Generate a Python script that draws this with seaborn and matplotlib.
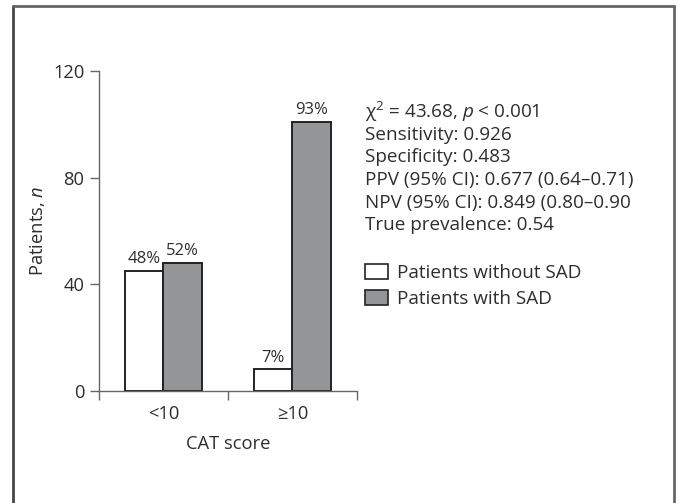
import matplotlib
matplotlib.use("Agg")
import matplotlib.pyplot as plt
from matplotlib.lines import Line2D
from matplotlib.patches import Patch
import seaborn as sns
import pandas as pd

# Patient counts per CAT score group
categories = ["<10", "\u226510"]
groups = ["Patients without SAD", "Patients with SAD"]
without_sad = [45, 8]
with_sad = [48, 101]

stats_lines = [
    "\u03c7$^{2}$ = 43.68, $p$ < 0.001",
    "Sensitivity: 0.926",
    "Specificity: 0.483",
    "PPV (95% CI): 0.677 (0.64\u20130.71)",
    "NPV (95% CI): 0.849 (0.80\u20130.90",
    "True prevalence: 0.54",
]
y_ticks = [0, 40, 80, 120]

df = pd.DataFrame({
    "CAT score": categories * 2,
    "group": [groups[0]] * 2 + [groups[1]] * 2,
    "n": without_sad + with_sad,
})

sns.set_theme(style="white")
TXT = "#2e2e2e"
AX = "#666666"
plt.rcParams["font.family"] = ["Open Sans", "Noto Sans", "DejaVu Sans"]
plt.rcParams["mathtext.fontset"] = "custom"
plt.rcParams["mathtext.rm"] = "Open Sans"
plt.rcParams["mathtext.it"] = "Open Sans:italic"
plt.rcParams["text.color"] = TXT
FS = 13.2
FS_STATS = 13.6

fig = plt.figure(figsize=(6.78, 5.03), dpi=100)
ax = fig.add_axes([0.146, 0.2232, 0.3805, 0.6356])

palette = {groups[0]: "white", groups[1]: "#939598"}
sns.barplot(data=df, x="CAT score", y="n", hue="group", order=categories,
            hue_order=groups, palette=palette, width=0.6, edgecolor="#222222",
            linewidth=1.4, ax=ax, legend=False)

# Percentage labels over each bar (share within CAT group)
totals = [a + b for a, b in zip(without_sad, with_sad)]
for container in ax.containers:
    for i, bar in enumerate(container):
        h = bar.get_height()
        pct = round(100 * h / totals[i])
        ax.annotate(f"{pct}%", (bar.get_x() + bar.get_width() / 2, h),
                    xytext=(0, 2.5), textcoords="offset points",
                    ha="center", va="bottom", fontsize=12, color=TXT)

ax.set_xlim(-0.5, 1.5)
ax.set_ylim(0, 120)
ax.set_yticks(y_ticks)
ax.set_xticks([0, 1])
ax.set_xticklabels(categories)
ax.set_xticks([-0.5, 0.5, 1.0, 1.5], minor=True)
ax.tick_params(axis="x", which="major", length=0, pad=10, labelsize=FS, labelcolor=TXT)
ax.tick_params(axis="x", which="minor", length=6.5, width=1, color=AX, direction="out", bottom=True)
ax.tick_params(axis="y", length=6.5, width=1, color=AX, direction="out", pad=4,
               labelsize=FS, labelcolor=TXT, left=True)
for side in ["top", "right"]:
    ax.spines[side].set_visible(False)
for side in ["left", "bottom"]:
    ax.spines[side].set_color(AX)
    ax.spines[side].set_linewidth(1)
ax.set_xlabel("CAT score", fontsize=FS, color=TXT, labelpad=9)
ax.set_ylabel("Patients, $n$", fontsize=FS, color=TXT, labelpad=4)

# Statistics block
W, H = 678, 503
ys = [112, 135, 157, 180.5, 203, 225]
for line, yp in zip(stats_lines, ys):
    fig.text(365 / W, 1 - yp / H, line, fontsize=FS_STATS, color=TXT, ha="left", va="center")

handles = [Patch(facecolor=palette[g], edgecolor="#222222", linewidth=1.2) for g in groups]
fig.legend(handles, groups, loc="upper left", bbox_to_anchor=(365 / W, 1 - 264 / H),
           frameon=False, fontsize=FS_STATS, handlelength=1.2, handleheight=0.8,
           handletextpad=0.5, labelspacing=0.42, borderpad=0, borderaxespad=0,
           labelcolor=TXT)

# Outer frame (open at the bottom)
fc = "#666666"
fig.add_artist(Line2D([12.5 / W, 12.5 / W], [0, 1 - 5.5 / H], transform=fig.transFigure, color="#444444", lw=2))
fig.add_artist(Line2D([12.5 / W, 673.5 / W], [1 - 5.5 / H, 1 - 5.5 / H], transform=fig.transFigure, color=fc, lw=2))
fig.add_artist(Line2D([673.5 / W, 673.5 / W], [0, 1 - 5.5 / H], transform=fig.transFigure, color=fc, lw=2))

fig.savefig("out.png", dpi=100)
